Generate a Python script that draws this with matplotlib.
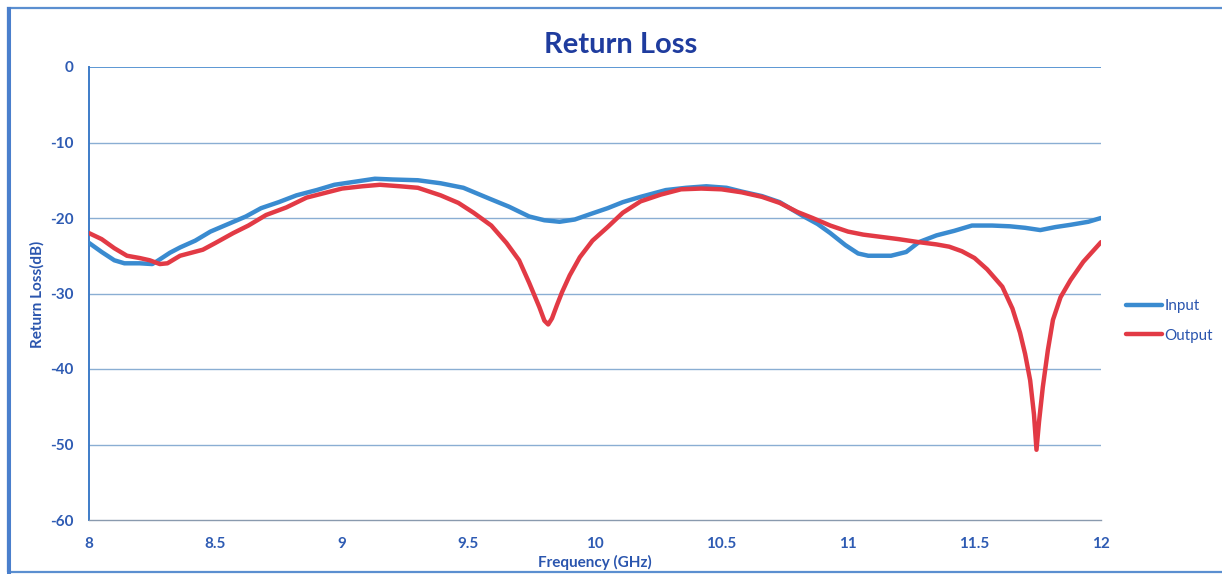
import matplotlib
matplotlib.use("Agg")
import matplotlib.pyplot as plt
from matplotlib.patches import Rectangle

plt.rcParams["axes.unicode_minus"] = False

freq_in = [8.00, 8.05, 8.10, 8.14, 8.20, 8.25, 8.27, 8.32, 8.36, 8.42, 8.48, 8.55, 8.62, 8.68,
           8.75, 8.82, 8.90, 8.97, 9.05, 9.13, 9.20, 9.30, 9.39, 9.48, 9.58, 9.66, 9.74, 9.80,
           9.86, 9.92, 9.98, 10.05, 10.11, 10.18, 10.28, 10.36, 10.44, 10.52, 10.58, 10.66,
           10.73, 10.82, 10.88, 10.93, 10.99, 11.04, 11.08, 11.17, 11.23, 11.28, 11.35, 11.42,
           11.49, 11.57, 11.64, 11.70, 11.76, 11.82, 11.88, 11.95, 12.00]
rl_in = [-23.3, -24.5, -25.6, -26.0, -26.0, -26.1, -25.7, -24.6, -23.9, -23.0, -21.8, -20.8,
         -19.8, -18.7, -17.9, -17.0, -16.3, -15.6, -15.2, -14.8, -14.9, -15.0, -15.4, -16.0,
         -17.4, -18.5, -19.8, -20.3, -20.5, -20.2, -19.5, -18.7, -17.9, -17.2, -16.3, -16.0,
         -15.8, -16.0, -16.5, -17.1, -17.9, -19.7, -20.8, -22.0, -23.6, -24.7, -25.0, -25.0,
         -24.5, -23.2, -22.3, -21.7, -21.0, -21.0, -21.1, -21.3, -21.6, -21.2, -20.9, -20.5,
         -20.0]

freq_out = [8.00, 8.05, 8.10, 8.15, 8.20, 8.24, 8.28, 8.31, 8.36, 8.45, 8.50, 8.57, 8.63, 8.70,
            8.78, 8.86, 8.93, 9.00, 9.08, 9.15, 9.23, 9.30, 9.39, 9.46, 9.52, 9.59, 9.65, 9.70,
            9.74, 9.78, 9.80, 9.815, 9.83, 9.85, 9.87, 9.90, 9.94, 9.99, 10.05, 10.11, 10.18,
            10.26, 10.34, 10.42, 10.50, 10.58, 10.66, 10.73, 10.80, 10.86, 10.93, 11.00, 11.06,
            11.13, 11.20, 11.28, 11.35, 11.40, 11.45, 11.50, 11.55, 11.61, 11.65, 11.68, 11.70,
            11.72, 11.735, 11.745, 11.755, 11.77, 11.79, 11.81, 11.84, 11.88, 11.93, 12.00]
rl_out = [-22.0, -22.8, -24.0, -25.0, -25.3, -25.6, -26.1, -26.0, -25.0, -24.2, -23.3, -22.0,
          -21.0, -19.6, -18.6, -17.3, -16.7, -16.1, -15.8, -15.6, -15.8, -16.0, -17.0, -18.0,
          -19.3, -21.0, -23.3, -25.6, -28.6, -31.8, -33.6, -34.1, -33.3, -31.5, -29.8, -27.6,
          -25.2, -23.0, -21.2, -19.3, -17.8, -16.9, -16.2, -16.1, -16.2, -16.6, -17.2, -18.0,
          -19.2, -20.0, -21.0, -21.8, -22.2, -22.5, -22.8, -23.2, -23.5, -23.8, -24.4, -25.3,
          -26.8, -29.1, -32.0, -35.2, -38.0, -41.5, -46.0, -50.7, -47.0, -42.4, -37.5, -33.5,
          -30.5, -28.2, -25.8, -23.2]

x_ticks = [8, 8.5, 9, 9.5, 10, 10.5, 11, 11.5, 12]
x_tick_labels = ["8", "8.5", "9", "9.5", "10", "10.5", "11", "11.5", "12"]
y_ticks = [0, -10, -20, -30, -40, -50, -60]

FONT = "Lato"
TICK_C = "#2E5BB3"
TITLE_C = "#1F3C9E"

fig = plt.figure(figsize=(12.22, 5.74), dpi=100)
fig.patch.set_facecolor("white")
fig.patches.append(Rectangle((8 / 1222, 2 / 574), 1.05, 564 / 574, transform=fig.transFigure,
                             fill=False, edgecolor="#5B8FD0", linewidth=1.6))
fig.patches.append(Rectangle((8 / 1222, 2 / 574), 0.001, 564 / 574, transform=fig.transFigure,
                             fill=False, edgecolor="#4A7FCC", linewidth=2.2))

ax = fig.add_axes([89 / 1222, 1 - 520 / 574, (1101 - 89) / 1222, (520 - 67) / 574])
ax.set_xlim(8, 12)
ax.set_ylim(-60, 0)

for y in y_ticks:
    if y == 0:
        ax.axhline(y, color="#4F8FD0", lw=1.3, zorder=1)
    elif y != -60:
        ax.axhline(y, color="#8AAED3", lw=1.0, zorder=1)

ax.plot(freq_in, rl_in, color="#3A8BD0", lw=3.2, label="Input", zorder=3,
        solid_joinstyle="round", solid_capstyle="round")
ax.plot(freq_out, rl_out, color="#E23A45", lw=3.2, label="Output", zorder=3,
        solid_joinstyle="round", solid_capstyle="round")

for s in ["top", "right"]:
    ax.spines[s].set_visible(False)
ax.spines["left"].set_color("#3E7CC8")
ax.spines["left"].set_linewidth(1.4)
ax.spines["bottom"].set_color("#8A9AAE")
ax.spines["bottom"].set_linewidth(1.0)

ax.set_xticks(x_ticks)
ax.set_xticklabels(x_tick_labels)
ax.set_yticks(y_ticks)
ax.tick_params(axis="both", length=0, colors=TICK_C, labelsize=11)
ax.tick_params(axis="x", pad=12)
ax.tick_params(axis="y", pad=11)
for lab in ax.get_xticklabels() + ax.get_yticklabels():
    lab.set_fontfamily(FONT)
    lab.set_fontweight("bold")

fig.text(621 / 1222, 1 - 45 / 574, "Return Loss", ha="center", va="center",
         fontsize=21, fontweight="bold", color=TITLE_C, family=FONT)
fig.text(595 / 1222, 1 - 562 / 574, "Frequency (GHz)", ha="center", va="center",
         fontsize=11, fontweight="bold", color="#2A55AE", family=FONT)
fig.text(37 / 1222, 1 - 294 / 574, "Return Loss(dB)", ha="center", va="center",
         rotation=90, fontsize=11, fontweight="bold", color="#2A55AE", family=FONT)

leg = fig.legend(loc="center left", bbox_to_anchor=(1112 / 1222, 1 - 321 / 574),
                 frameon=False, handlelength=2.4, handletextpad=0.15, labelspacing=1.0,
                 prop={"family": FONT, "size": 11})
for t in leg.get_texts():
    t.set_color("#2A55AE")

fig.savefig("out.png", dpi=100, facecolor="white")
